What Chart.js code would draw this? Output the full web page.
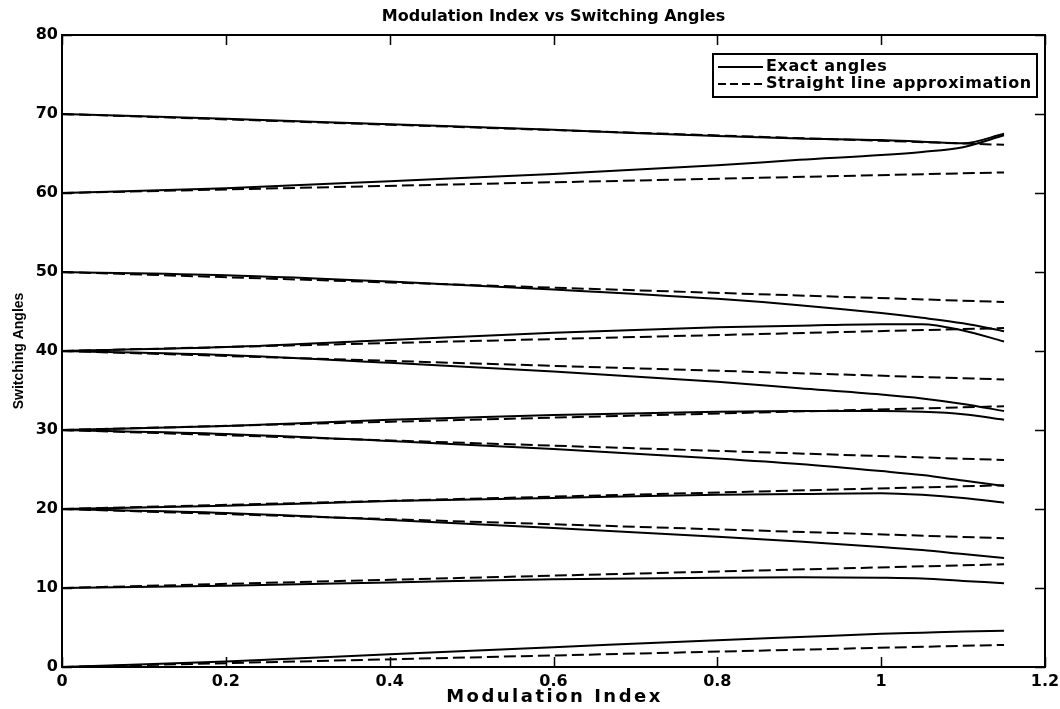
<!DOCTYPE html>
<html>
<head>
<meta charset="utf-8">
<script src="https://cdn.jsdelivr.net/npm/chart.js@4.4.1/dist/chart.umd.min.js"></script>
<style>
  html, body { margin: 0; padding: 0; background: #fff; }
  #wrap { width: 1060px; height: 709px; }
</style>
</head>
<body>
<div id="wrap"><canvas id="angleChart" width="1060" height="709"></canvas></div>
<script>
// Modulation index samples for the exact solutions
const modIndex = [0, 0.2, 0.4, 0.6, 0.8, 0.9, 1.0, 1.05, 1.1, 1.15];

// Exact switching angles (degrees), one array per angle
const alpha1 = [0, 0.7, 1.6, 2.5, 3.4, 3.8, 4.2, 4.35, 4.5, 4.6];
const alpha2 = [10, 10.3, 10.7, 11.1, 11.3, 11.35, 11.3, 11.2, 10.9, 10.6];
const alpha3 = [20, 19.5, 18.6, 17.6, 16.5, 15.9, 15.2, 14.8, 14.3, 13.8];
const alpha4 = [20, 20.4, 21.0, 21.4, 21.8, 21.9, 22.0, 21.8, 21.4, 20.8];
const alpha5 = [30, 29.5, 28.6, 27.6, 26.4, 25.7, 24.8, 24.3, 23.6, 22.9];
const alpha6 = [30, 30.5, 31.3, 31.9, 32.3, 32.4, 32.4, 32.3, 32.0, 31.3];
const alpha7 = [40, 39.5, 38.5, 37.4, 36.1, 35.3, 34.5, 34.0, 33.3, 32.4];
const alpha8 = [40, 40.5, 41.4, 42.3, 43.0, 43.2, 43.4, 43.4, 42.6, 41.2];
const alpha9 = [50, 49.6, 48.8, 47.8, 46.6, 45.8, 44.8, 44.2, 43.5, 42.5];
const alpha10 = [60, 60.6, 61.5, 62.4, 63.5, 64.2, 64.8, 65.2, 65.8, 67.3];
const alpha11 = [70, 69.4, 68.7, 68.0, 67.2, 66.9, 66.7, 66.5, 66.3, 67.5];
const exactAngles = [alpha1, alpha2, alpha3, alpha4, alpha5, alpha6, alpha7, alpha8, alpha9, alpha10, alpha11];

// Straight line approximation: value at m = 0 and at m = 1.15
const approxRange = [0, 1.15];
const approxStart = [0, 10, 20, 20, 30, 30, 40, 40, 50, 60, 70];
const approxEnd = [2.8, 13.0, 16.3, 23.0, 26.2, 33.0, 36.4, 42.9, 46.2, 62.6, 66.1];

const xTicks = [0, 0.2, 0.4, 0.6, 0.8, 1, 1.2];
const yTicks = [0, 10, 20, 30, 40, 50, 60, 70, 80];

const legendLabels = ["Exact angles", "Straight line approximation"];
const titleText = "Modulation Index vs Switching Angles";
const xTitle = "Modulation Index";
const yTitle = "Switching Angles";

const FONT = '"DejaVu Sans", Verdana, sans-serif';
const SANS = '"Liberation Sans", Arial, sans-serif';

const datasets = [];
exactAngles.forEach((arr, i) => {
  datasets.push({
    label: i === 0 ? legendLabels[0] : "",
    data: modIndex.map((m, k) => ({ x: m, y: arr[k] })),
    borderColor: "#000",
    borderWidth: 2,
    pointRadius: 0,
    cubicInterpolationMode: "monotone",
    fill: false,
  });
});
approxStart.forEach((s, i) => {
  datasets.push({
    label: i === 0 ? legendLabels[1] : "",
    data: [{ x: approxRange[0], y: s }, { x: approxRange[1], y: approxEnd[i] }],
    borderColor: "#000",
    borderWidth: 2,
    borderDash: [12, 5],
    pointRadius: 0,
    fill: false,
  });
});

// frame, inward ticks, titles and legend box
const decorations = {
  id: "decorations",
  afterDraw(chart) {
    const { ctx, chartArea: a, scales } = chart;
    const tl = 10;
    ctx.save();
    ctx.strokeStyle = "#000";
    ctx.lineWidth = 2;
    ctx.strokeRect(a.left, a.top, a.right - a.left, a.bottom - a.top);

    ctx.lineWidth = 1.5;
    ctx.beginPath();
    xTicks.forEach(v => {
      const px = Math.round(scales.x.getPixelForValue(v)) + 0.5;
      ctx.moveTo(px, a.bottom); ctx.lineTo(px, a.bottom - tl);
      ctx.moveTo(px, a.top); ctx.lineTo(px, a.top + tl);
    });
    yTicks.forEach(v => {
      const py = Math.round(scales.y.getPixelForValue(v)) + 0.5;
      ctx.moveTo(a.left, py); ctx.lineTo(a.left + tl, py);
      ctx.moveTo(a.right, py); ctx.lineTo(a.right - tl, py);
    });
    ctx.stroke();

    ctx.fillStyle = "#000";
    ctx.textAlign = "center";
    ctx.textBaseline = "middle";
    ctx.font = "bold 16px " + FONT;
    ctx.fillText(titleText, (a.left + a.right) / 2, 17);
    ctx.font = "bold 18px " + FONT;
    ctx.letterSpacing = "2.5px";
    ctx.fillText(xTitle, (a.left + a.right) / 2 + 1, 697);
    ctx.letterSpacing = "0px";
    ctx.font = "bold 14px " + SANS;
    ctx.save();
    ctx.translate(19, (a.top + a.bottom) / 2);
    ctx.rotate(-Math.PI / 2);
    ctx.fillText(yTitle, 0, 0);
    ctx.restore();

    // legend
    const bx = 713, by = 54, bw = 324, bh = 43;
    ctx.fillStyle = "#fff";
    ctx.fillRect(bx, by, bw, bh);
    ctx.lineWidth = 2;
    ctx.strokeRect(bx, by, bw, bh);
    ctx.beginPath();
    ctx.moveTo(bx + 5, by + 13); ctx.lineTo(bx + 50, by + 13);
    ctx.stroke();
    ctx.setLineDash([8, 4]);
    ctx.beginPath();
    ctx.moveTo(bx + 5, by + 30); ctx.lineTo(bx + 50, by + 30);
    ctx.stroke();
    ctx.setLineDash([]);
    ctx.fillStyle = "#000";
    ctx.font = "bold 16px " + FONT;
    ctx.letterSpacing = "0.6px";
    ctx.textAlign = "left";
    ctx.fillText(legendLabels[0], bx + 53, by + 13);
    ctx.fillText(legendLabels[1], bx + 53, by + 30);
    ctx.letterSpacing = "0px";
    ctx.restore();
  }
};

new Chart(document.getElementById("angleChart"), {
  type: "line",
  data: { datasets },
  options: {
    responsive: false,
    animation: false,
    layout: { padding: { top: 35, right: 15, left: 0, bottom: 0 } },
    plugins: { legend: { display: false }, tooltip: { enabled: false } },
    scales: {
      x: {
        type: "linear",
        min: 0, max: 1.2,
        grid: { display: false, drawTicks: false },
        border: { display: false },
        afterBuildTicks: s => { s.ticks = xTicks.map(v => ({ value: v })); },
        afterFit: s => { s.height = 42; s.paddingLeft = 0; s.paddingRight = 0; },
        ticks: {
          color: "#000",
          padding: 5,
          maxRotation: 0,
          font: { family: FONT, size: 16, weight: "bold" },
          callback: v => String(v),
        },
      },
      y: {
        min: 0, max: 80,
        grid: { display: false, drawTicks: false },
        border: { display: false },
        afterBuildTicks: s => { s.ticks = yTicks.map(v => ({ value: v })); },
        afterFit: s => { s.width = 62; s.paddingTop = 0; s.paddingBottom = 0; },
        ticks: {
          color: "#000",
          padding: 4,
          font: { family: FONT, size: 16, weight: "bold" },
        },
      },
    },
  },
  plugins: [decorations],
});
</script>
</body>
</html>
